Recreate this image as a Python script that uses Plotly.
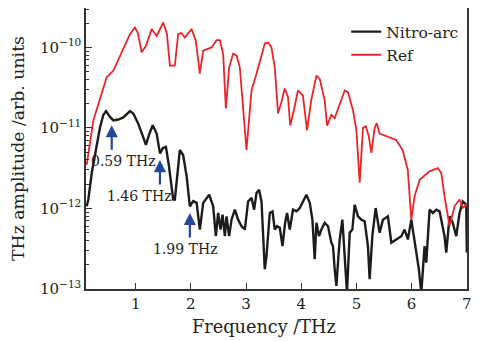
import plotly.graph_objects as go

# Ref spectrum
freq_ref = [0.113, 0.233, 0.29, 0.475, 0.595, 0.68, 0.776, 0.897, 0.987, 1.04, 1.109, 1.186, 1.29, 1.38, 1.50,
            1.566, 1.62, 1.71, 1.77, 1.83, 1.89, 2.013, 2.09, 2.163, 2.223, 2.285, 2.375, 2.466, 2.525, 2.585,
            2.634, 2.694, 2.766, 2.827, 2.887, 3.008, 3.099, 3.19, 3.28, 3.34, 3.40, 3.46, 3.52, 3.58, 3.64,
            3.70, 3.76, 3.80, 3.88, 3.94, 4.03, 4.105, 4.18, 4.275, 4.335, 4.425, 4.467, 4.546, 4.606, 4.697,
            4.787, 4.847, 4.937, 4.999, 5.059, 5.118, 5.167, 5.22, 5.27, 5.33, 5.366, 5.42, 5.57, 5.72, 5.836,
            5.93, 5.994, 6.053, 6.144, 6.325, 6.475, 6.537, 6.596, 6.687, 6.777, 6.868, 6.928, 7.0]
amp_ref = [3.47e-12, 1.24e-11, 1.66e-11, 4.27e-11, 5.13e-11, 6.92e-11, 1.0e-10, 1.46e-10, 1.77e-10, 1.51e-10,
           8.71e-11, 1.05e-10, 1.69e-10, 1.39e-10, 2.04e-10, 1.48e-10, 5.94e-11, 5.94e-11, 1.46e-10, 1.51e-10,
           1.33e-10, 1.69e-10, 1.21e-10, 4.73e-11, 9.12e-11, 9.55e-11, 1.0e-10, 1.23e-10, 1.23e-10, 8.32e-11,
           1.75e-11, 5.66e-11, 8.32e-11, 7.94e-11, 5.66e-11, 5.31e-12, 2.92e-11, 4.73e-11, 8.32e-11, 1.12e-10,
           1.15e-10, 1.0e-10, 5.66e-11, 1.51e-11, 2.09e-11, 3.09e-11, 2.40e-11, 1.07e-11, 1.82e-11, 2.92e-11,
           2.51e-11, 9.33e-12, 2.19e-11, 4.47e-11, 4.07e-11, 2.19e-11, 1.07e-11, 1.45e-11, 1.32e-11, 2.02e-11,
           2.92e-11, 2.78e-11, 1.66e-11, 9.33e-12, 2.09e-12, 1.0e-11, 1.05e-11, 8.13e-12, 4.90e-12, 1.0e-11,
           1.15e-11, 8.51e-12, 7.76e-12, 7.08e-12, 5.31e-12, 3.02e-12, 7.24e-13, 1.41e-12, 2.26e-12, 2.88e-12,
           3.16e-12, 2.75e-12, 1.41e-12, 6.03e-13, 1.06e-12, 1.29e-12, 1.02e-12, 1.12e-12]

# Nitro-arc spectrum
freq_nitro = [0.113, 0.142, 0.204, 0.294, 0.354, 0.414, 0.463, 0.535, 0.595, 0.685, 0.776, 0.897, 0.957, 1.047,
              1.109, 1.186, 1.24, 1.308, 1.38, 1.44, 1.494, 1.548, 1.60, 1.68, 1.71, 1.765, 1.80, 1.86, 1.923,
              1.982, 2.042, 2.104, 2.163, 2.223, 2.285, 2.332, 2.404, 2.453, 2.494, 2.538, 2.574, 2.616, 2.646,
              2.693, 2.737, 2.797, 2.856, 2.918, 2.978, 3.037, 3.099, 3.146, 3.189, 3.236, 3.28, 3.309, 3.339,
              3.37, 3.43, 3.479, 3.52, 3.562, 3.611, 3.66, 3.707, 3.743, 3.792, 3.851, 3.913, 3.973, 4.094,
              4.154, 4.202, 4.244, 4.275, 4.322, 4.365, 4.425, 4.485, 4.546, 4.575, 4.606, 4.637, 4.666, 4.697,
              4.745, 4.787, 4.829, 4.878, 4.926, 4.968, 5.028, 5.089, 5.149, 5.208, 5.239, 5.288, 5.348, 5.42,
              5.48, 5.57, 5.632, 5.722, 5.813, 5.872, 5.932, 5.994, 6.071, 6.131, 6.175, 6.234, 6.265, 6.325,
              6.384, 6.446, 6.506, 6.596, 6.627, 6.687, 6.746, 6.808, 6.868, 6.927, 6.989, 7.0]
amp_nitro = [1.06e-12, 1.29e-12, 2.75e-12, 5.82e-12, 1.02e-11, 1.45e-11, 1.62e-11, 1.37e-11, 1.24e-11, 1.27e-11,
             1.35e-11, 1.62e-11, 1.51e-11, 1.13e-11, 8.51e-12, 6.17e-12, 8.13e-12, 1.08e-11, 8.51e-12, 4.83e-12,
             5.62e-12, 5.82e-12, 3.47e-12, 1.29e-12, 1.29e-12, 3.47e-12, 5.31e-12, 4.60e-12, 2.51e-12, 1.06e-12,
             1.23e-12, 1.17e-12, 5.46e-13, 1.17e-12, 1.36e-12, 1.48e-12, 1.06e-12, 4.51e-13, 8.77e-13, 5.46e-13,
             8.36e-13, 4.51e-13, 7.96e-13, 4.51e-13, 7.24e-13, 9.64e-13, 7.24e-13, 6.00e-13, 5.46e-13, 1.22e-12,
             1.35e-12, 9.64e-13, 1.55e-12, 1.70e-12, 1.22e-12, 4.11e-13, 1.75e-13, 2.55e-13, 8.77e-13, 9.18e-13,
             5.46e-13, 6.00e-13, 5.73e-13, 3.40e-13, 6.61e-13, 8.77e-13, 5.46e-13, 9.64e-13, 9.18e-13, 1.01e-12,
             1.48e-12, 1.17e-12, 7.24e-13, 2.33e-13, 6.61e-13, 4.51e-13, 5.46e-13, 6.61e-13, 6.00e-13, 3.74e-13,
             3.40e-13, 1.75e-13, 1.09e-13, 2.14e-13, 4.11e-13, 7.24e-13, 2.12e-13, 8.9e-14, 4.97e-13, 5.46e-13,
             1.11e-12, 7.96e-13, 7.24e-13, 6.92e-13, 3.40e-13, 1.32e-13, 4.51e-13, 1.01e-12, 4.97e-13, 7.24e-13,
             7.96e-13, 3.74e-13, 4.11e-13, 4.51e-13, 5.46e-13, 4.11e-13, 7.24e-13, 3.40e-13, 1.75e-13, 8.9e-14,
             3.40e-13, 2.12e-13, 9.64e-13, 8.77e-13, 9.64e-13, 9.18e-13, 4.51e-13, 2.82e-13, 7.96e-13, 6.61e-13,
             4.51e-13, 8.77e-13, 1.22e-12, 1.11e-12, 2.82e-13]

# Marked peaks: (frequency, arrow tip amplitude as log10, label)
mark_freq = [0.566, 1.44, 1.982]
mark_tip_log = [-10.967, -11.40, -12.057]
mark_labels = ["0.59 THz", "1.46 THz", "1.99 THz"]
label_freq = [0.776, 1.069, 1.91]
label_log = [-11.41, -11.85, -12.50]

x_ticks = [1, 2, 3, 4, 5, 6, 7]
y_major = [1e-13, 1e-12, 1e-11, 1e-10]
y_major_text = ["10<sup>−13</sup>", "10<sup>−12</sup>", "10<sup>−11</sup>", "10<sup>−10</sup>"]
y_minor = [m * d for d in [1e-13, 1e-12, 1e-11, 1e-10] for m in range(2, 10)]

FONT = "DejaVu Serif"

fig = go.Figure()
fig.add_trace(go.Scatter(x=freq_nitro, y=amp_nitro, mode="lines", name="Nitro-arc",
                         line=dict(color="#1c1c1c", width=2.4)))
fig.add_trace(go.Scatter(x=freq_ref, y=amp_ref, mode="lines", name="Ref",
                         line=dict(color="#e8252b", width=1.8)))

for fx, ty in zip(mark_freq, mark_tip_log):
    fig.add_annotation(x=fx, y=ty, xref="x", yref="y", ax=0, ay=26, axref="pixel", ayref="pixel",
                       showarrow=True, arrowhead=2, arrowsize=1.1, arrowwidth=2.2,
                       arrowcolor="#24479a", text="")
for lf, ll, t in zip(label_freq, label_log, mark_labels):
    fig.add_annotation(x=lf, y=ll, xref="x", yref="y", text=t, showarrow=False,
                       font=dict(family=FONT, size=14, color="#222"))

# x-axis title (placed slightly left of centre, as in the original)
fig.add_annotation(x=0.467, y=-0.135, xref="paper", yref="paper", text="Frequency /THz",
                   showarrow=False, xanchor="center", yanchor="middle",
                   font=dict(family=FONT, size=17.7, color="#222"))

# page body has an 8px margin, so the figure is sized to the remaining window
fig.update_layout(
    width=472, height=333,
    margin=dict(l=78, r=13, t=0, b=52),
    paper_bgcolor="white", plot_bgcolor="white",
    font=dict(family=FONT, size=14, color="#222"),
    showlegend=True,
    legend=dict(x=0.683, y=0.975, xanchor="left", yanchor="top", bgcolor="rgba(0,0,0,0)",
                font=dict(family=FONT, size=15.5), tracegroupgap=0),
)
fig.update_xaxes(range=[0.1, 7.003], tickvals=x_ticks, ticks="inside", ticklen=6, tickcolor="#333",
                 showline=True, linecolor="#333", linewidth=1.5, mirror=True, showgrid=False,
                 zeroline=False, tickfont=dict(family=FONT, size=15), automargin=False)
fig.update_yaxes(type="log", range=[-13.002, -9.51], tickmode="array", tickvals=y_major,
                 ticktext=y_major_text,
                 ticks="inside", ticklen=6, tickcolor="#333",
                 minor=dict(tickmode="array", tickvals=y_minor, ticks="inside", ticklen=3,
                            tickcolor="#333", showgrid=False),
                 showline=True, linecolor="#333", linewidth=1.5, mirror=True, showgrid=False,
                 zeroline=False, tickfont=dict(family=FONT, size=15), automargin=False,
                 title=dict(text="THz amplitude /arb. units", font=dict(family=FONT, size=17.3), standoff=12))

fig.write_html("out.html")
